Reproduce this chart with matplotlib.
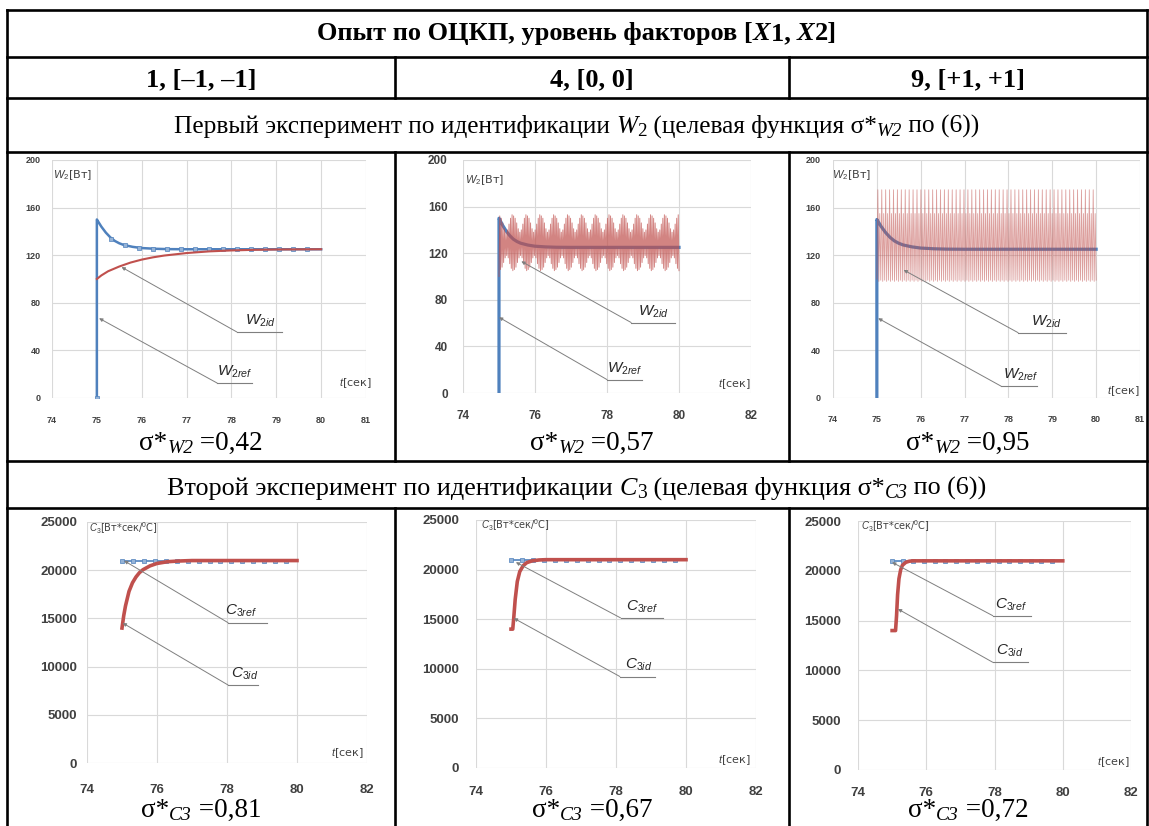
import numpy as np
import matplotlib
matplotlib.use("Agg")
import matplotlib.pyplot as plt
from matplotlib.lines import Line2D

plt.rcParams['mathtext.fontset'] = 'custom'
plt.rcParams['mathtext.rm'] = 'Liberation Sans'
plt.rcParams['mathtext.it'] = 'Liberation Sans:italic'
plt.rcParams['mathtext.bf'] = 'Liberation Sans:bold'

# ---------------- data ----------------
col_headers = ["1, [\u20131, \u20131]", "4, [0, 0]", "9, [+1, +1]"]
sigma_w2 = ["0,42", "0,57", "0,95"]
sigma_c3 = ["0,81", "0,67", "0,72"]

w2_xticks_a = [74, 75, 76, 77, 78, 79, 80, 81]
w2_xticks_b = [74, 76, 78, 80, 82]
w2_yticks = [0, 40, 80, 120, 160, 200]
c3_xticks = [74, 76, 78, 80, 82]
c3_yticks = [0, 5000, 10000, 15000, 20000, 25000]

# W2 reference (blue) line
w2ref_t = [75.0, 75.0, 75.05, 75.1, 75.2, 75.3, 75.4, 75.5, 75.6, 75.8, 76.0, 76.3, 76.6, 77.0, 80.0]
w2ref_v = [0, 150, 147, 144, 139, 135, 132, 130, 128.6, 127, 126, 125.4, 125.1, 125, 125]
# W2 reference markers (experiment 1)
w2ref_mk_t = [75.0, 75.3125, 75.625, 75.9375, 76.25, 76.5625, 76.875, 77.1875,
              77.5, 77.8125, 78.125, 78.4375, 78.75, 79.0625, 79.375, 79.6875]
w2ref_mk_v = [0, 134, 128.5, 126.3, 125.5, 125.2, 125.1, 125, 125, 125, 125, 125, 125, 125, 125, 125]

# W2 identified, experiment 1 (smooth)
w2id1_t = [75.0, 75.1, 75.25, 75.5, 75.75, 76.0, 76.25, 76.5, 77.0, 77.5, 78.0, 78.5, 79.0, 80.0]
w2id1_v = [100, 103, 106.5, 110.5, 113.8, 116.3, 118.2, 119.7, 121.8, 123.2, 124.0, 124.5, 124.8, 125]

# W2 identified, experiment 4 (fast oscillation with beats): one beat of peaks / troughs
w2id4_beat_peaks = [152, 150, 146, 141, 138, 140, 145, 150, 153]
w2id4_beat_troughs = [106, 108, 112, 116, 118, 116, 111, 107, 105]
w2id4_beats = 13

# W2 identified, experiment 9 (fast oscillation)
w2id9_beat_peaks = [175, 155]
w2id9_beat_troughs = [98, 99]
w2id9_beats = 56

# C3 reference markers
c3ref_t = [75.0, 75.3125, 75.625, 75.9375, 76.25, 76.5625, 76.875, 77.1875,
           77.5, 77.8125, 78.125, 78.4375, 78.75, 79.0625, 79.375, 79.6875]
c3ref_v = [21000] * 16

# C3 identified
c3id1_t = [75.0, 75.05, 75.1, 75.2, 75.3, 75.4, 75.5, 75.6, 75.8, 76.0, 76.3, 76.6, 77.0, 80.0]
c3id1_v = [14000, 15300, 16300, 17800, 18700, 19300, 19750, 20050, 20450, 20700, 20880, 20950, 21000, 21000]
c3id4_t = [75.0, 75.05, 75.08, 75.12, 75.18, 75.25, 75.35, 75.45, 75.6, 75.8, 76.0, 80.0]
c3id4_v = [14000, 14000, 15200, 17000, 18800, 19800, 20400, 20700, 20880, 20970, 21000, 21000]
c3id9_t = [75.0, 75.1, 75.13, 75.16, 75.2, 75.25, 75.3, 75.4, 75.5, 75.6, 80.0]
c3id9_v = [14000, 14000, 15500, 17600, 19200, 20100, 20550, 20850, 20960, 21000, 21000]

# ---------------- layout ----------------
W, H = 1149, 826
fig = plt.figure(figsize=(W / 100, H / 100), dpi=100)
R = fig.canvas.get_renderer()

def fx(px):
    return px / W

def fy(py):
    return 1 - py / H

LW = 1.9
def hline(y, x0, x1, lw=LW):
    fig.add_artist(Line2D([fx(x0), fx(x1)], [fy(y), fy(y)], color='black', lw=lw,
                          transform=fig.transFigure, solid_capstyle='projecting'))

def vline(x, y0, y1, lw=LW):
    fig.add_artist(Line2D([fx(x), fx(x)], [fy(y0), fy(y1)], color='black', lw=lw,
                          transform=fig.transFigure, solid_capstyle='projecting'))

def twidth(s, **kw):
    a = fig.text(0, 0, '|' + s + '|', **kw)
    b = fig.text(0, 0, '||', **kw)
    w = a.get_window_extent(R).width - b.get_window_extent(R).width
    a.remove(); b.remove()
    return w

def runs(cx, by, pieces, size, family='Liberation Serif'):
    """pieces: (text, style, weight, scale, dy_px)"""
    items = []
    total = 0
    for txt, st, wt, sc, dy in pieces:
        kw = dict(fontsize=size * sc, family=family, style=st, weight=wt)
        w = twidth(txt, **kw)
        items.append((txt, kw, w, dy))
        total += w
    x = cx - total / 2
    for txt, kw, w, dy in items:
        fig.text(fx(x), fy(by + dy), txt, ha='left', va='baseline', **kw)
        x += w

# table lines
XL, XR = 7, 1147
C1, C2 = 395, 789
for y in [10, 57, 98, 152, 461, 508]:
    hline(y, XL, XR)
vline(XL, 10, 826)
vline(XR, 10, 826)
for x in [C1, C2]:
    vline(x, 57, 98)
    vline(x, 152, 461)
    vline(x, 508, 826)

col_cx = [(XL + C1) / 2, (C1 + C2) / 2, (C2 + XR) / 2]

# title row
runs((XL + XR) / 2, 40, [
    ("Опыт по ОЦКП, уровень факторов [", 'normal', 'bold', 1, 0),
    ("X", 'italic', 'bold', 1, 0),
    ("1, ", 'normal', 'bold', 1, 0),
    ("X", 'italic', 'bold', 1, 0),
    ("2]", 'normal', 'bold', 1, 0)], 19)
for cx, h in zip(col_cx, col_headers):
    runs(cx, 86, [(h, 'normal', 'bold', 1, 0)], 19)

runs((XL + XR) / 2, 133, [
    ("Первый эксперимент по идентификации ", 'normal', 'normal', 1, 0),
    ("W", 'italic', 'normal', 1, 0),
    ("2", 'normal', 'normal', 0.75, 3),
    (" (целевая функция σ*", 'normal', 'normal', 1, 0),
    ("W2", 'italic', 'normal', 0.75, 3),
    (" по (6))", 'normal', 'normal', 1, 0)], 18.3)

runs((XL + XR) / 2, 495, [
    ("Второй эксперимент по идентификации ", 'normal', 'normal', 1, 0),
    ("C", 'italic', 'normal', 1, 0),
    ("3", 'normal', 'normal', 0.75, 3),
    (" (целевая функция σ*", 'normal', 'normal', 1, 0),
    ("C3", 'italic', 'normal', 0.75, 3),
    (" по (6))", 'normal', 'normal', 1, 0)], 18.8)

for cx, s in zip(col_cx, sigma_w2):
    runs(cx, 450, [("σ*", 'normal', 'normal', 1, 0), ("W2", 'italic', 'normal', 0.72, 3),
                   (" =" + s, 'normal', 'normal', 1, 0)], 19.5)
for cx, s in zip(col_cx, sigma_c3):
    runs(cx, 817, [("σ*", 'normal', 'normal', 1, 0), ("C3", 'italic', 'normal', 0.72, 3),
                   (" =" + s, 'normal', 'normal', 1, 0)], 19.5)

# ---------------- charts ----------------
BLUE = '#4f81bd'
RED = '#c0504d'
GRID = '#d9d9d9'

def make_ax(l, r, b, t, xlim, ylim, xt, yt, fs, xpad, ypad):
    ax = fig.add_axes([fx(l), fy(b), (r - l) / W, (b - t) / H])
    ax.set_xlim(*xlim)
    ax.set_ylim(*ylim)
    ax.set_xticks(xt)
    ax.set_yticks(yt)
    ax.grid(True, color=GRID, lw=0.8)
    ax.set_axisbelow(True)
    for s in ax.spines.values():
        s.set_visible(False)
    ax.tick_params(length=0, labelsize=fs, labelcolor='#404040')
    ax.tick_params(axis='x', pad=xpad)
    ax.tick_params(axis='y', pad=ypad)
    for lab in ax.get_xticklabels() + ax.get_yticklabels():
        lab.set_fontweight('bold')
        lab.set_family('Liberation Sans')
    ax.patch.set_alpha(0)
    return ax

def leader(ax, tip, start, end, label, lab_xy, fs=11):
    ax.annotate('', xy=tip, xytext=start,
                arrowprops=dict(arrowstyle='-|>', color='#7f7f7f', lw=0.7,
                                mutation_scale=5, shrinkA=0, shrinkB=0))
    ax.plot([start[0], end[0]], [start[1], start[1]], color='#7f7f7f', lw=0.8, clip_on=False)
    ax.text(lab_xy[0], lab_xy[1], label, ha='center', va='bottom', fontsize=fs, color='#262626')

def osc(beat_peaks, beat_troughs, beats, t0, t1):
    vals = [100]
    for _ in range(beats):
        for p, q in zip(beat_peaks, beat_troughs):
            vals += [p, q]
    t = np.linspace(t0, t1, len(vals))
    return t, vals

AXFS = 8
# chart 1
ax = make_ax(52, 366, 398, 160, (74, 81), (0, 200), w2_xticks_a, w2_yticks, 6.5, 13, 8)
ax.plot(w2ref_t, w2ref_v, color=BLUE, lw=1.8)
ax.plot(w2ref_mk_t, w2ref_mk_v, ls='none', marker='s', ms=3, mfc='#95b3d7', mec=BLUE, mew=0.5)
ax.plot(w2id1_t, w2id1_v, color=RED, lw=1.5)
leader(ax, (75.55, 110), (78.12, 55.5), (79.13, 55.5), '$W_{2id}$', (78.64, 58))
leader(ax, (75.05, 67), (77.68, 12.6), (78.46, 12.6), '$W_{2ref}$', (78.08, 15))
ax.text(74.03, 187, '$W_2$[Вт]', fontsize=AXFS, color='#404040', ha='left', va='center')
ax.text(81.12, 12.6, '$t$[сек]', fontsize=AXFS, color='#404040', ha='right', va='center')

# chart 2
ax = make_ax(463, 751, 393, 160, (74, 82), (0, 200), w2_xticks_b, w2_yticks, 8.5, 12, 11)
ax.plot(w2ref_t, w2ref_v, color=BLUE, lw=2.3)
t, v = osc(w2id4_beat_peaks, w2id4_beat_troughs, w2id4_beats, 75.0, 80.0)
ax.plot(t, v, color=RED, lw=0.7, alpha=0.7)
leader(ax, (75.62, 113), (78.67, 60.5), (79.89, 60.5), '$W_{2id}$', (79.3, 63))
leader(ax, (75.0, 65), (78.0, 11.5), (78.97, 11.5), '$W_{2ref}$', (78.5, 14))
ax.text(74.05, 183, '$W_2$[Вт]', fontsize=AXFS, color='#404040', ha='left', va='center')
ax.text(82.0, 8, '$t$[сек]', fontsize=AXFS, color='#404040', ha='right', va='center')

# chart 3
ax = make_ax(833, 1140, 398, 160, (74, 81), (0, 200), w2_xticks_a, w2_yticks, 6.5, 12, 9)
ax.plot(w2ref_t, w2ref_v, color=BLUE, lw=2.3)
t, v = osc(w2id9_beat_peaks, w2id9_beat_troughs, w2id9_beats, 75.0, 80.0)
ax.plot(t, v, color=RED, lw=0.6, alpha=0.55)
leader(ax, (75.61, 107.6), (78.22, 54.9), (79.31, 54.9), '$W_{2id}$', (78.86, 57))
leader(ax, (75.03, 67), (77.83, 10), (78.65, 10), '$W_{2ref}$', (78.29, 13))
ax.text(73.97, 187, '$W_2$[Вт]', fontsize=AXFS, color='#404040', ha='left', va='center')
ax.text(81.0, 6, '$t$[сек]', fontsize=AXFS, color='#404040', ha='right', va='center')

# chart 4-6
c3_axes = [
    (87, 367, 763, 522, c3id1_t, c3id1_v, 15, 7,
     ((75.06, 20985), (78.03, 14554), (79.14, 14554), (78.4, 14900)),
     ((75.02, 14523), (78.03, 8091), (78.89, 8091), (78.5, 8400)),
     (74.06, 24380), (81.9, 1000)),
    (476, 756, 768, 520, c3id4_t, c3id4_v, 13, 12,
     ((75.14, 20741), (78.13, 15133), (79.33, 15133), (78.75, 15450)),
     ((75.08, 15100), (78.11, 9223), (79.11, 9223), (78.65, 9550)),
     (74.13, 24500), (81.85, 800)),
    (858, 1131, 770, 521, c3id9_t, c3id9_v, 12, 12,
     ((75.0, 20853), (77.95, 15492), (79.06, 15492), (78.48, 15800)),
     ((75.17, 16165), (77.95, 10813), (78.98, 10813), (78.45, 11100)),
     (74.1, 24480), (81.95, 830)),
]
for (l, r, b, tp, ct, cv, xp, yp, lref, lid, ylab, tlab) in c3_axes:
    ax = make_ax(l, r, b, tp, (74, 82), (0, 25000), c3_xticks, c3_yticks, 9.5, xp, yp)
    ax.plot(c3ref_t, c3ref_v, color=BLUE, lw=1.2, marker='s', ms=3, mfc='#95b3d7', mec=BLUE, mew=0.5)
    ax.plot(ct, cv, color=RED, lw=2.6)
    leader(ax, lref[0], lref[1], lref[2], '$C_{3ref}$', lref[3])
    leader(ax, lid[0], lid[1], lid[2], '$C_{3id}$', lid[3])
    ax.text(ylab[0], ylab[1], '$C_3$[Вт*сек/$^0$C]', fontsize=7, color='#404040', ha='left', va='center')
    ax.text(tlab[0], tlab[1], '$t$[сек]', fontsize=AXFS, color='#404040', ha='right', va='center')

fig.savefig('out.png', dpi=100)
